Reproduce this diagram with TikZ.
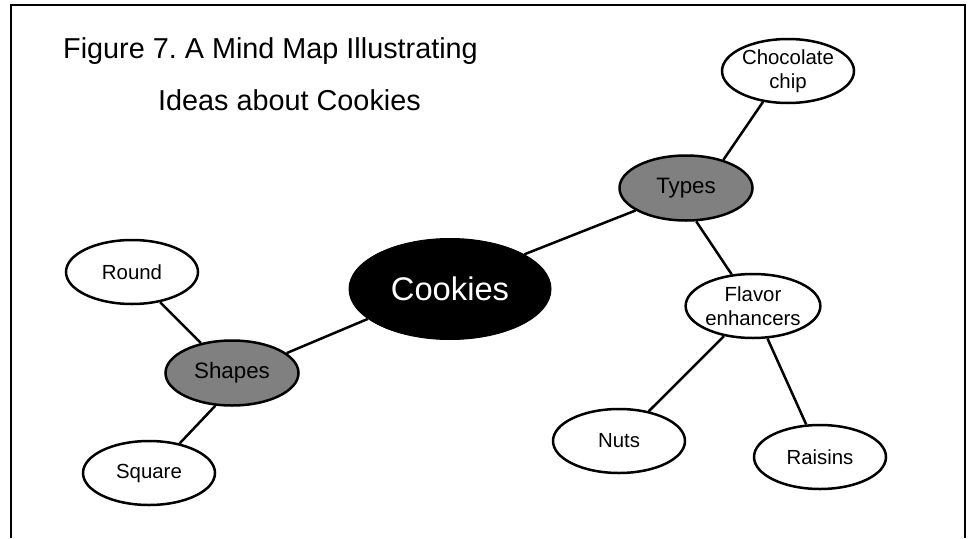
\documentclass[tikz,border=0pt]{standalone}
\usepackage{fontspec}
\setmainfont{Liberation Sans}
\usetikzlibrary{shapes.geometric}
\definecolor{branchgray}{RGB}{128,128,128}
\frenchspacing

\begin{document}
\begin{tikzpicture}[x=1pt,y=-1pt,
  bubble/.style={ellipse, draw=black, fill=white, line width=2.5pt, inner sep=0pt,
    minimum width=132pt, minimum height=64pt, align=center,
    font=\fontsize{20.4}{24}\selectfont},
  branch/.style={bubble, fill=branchgray, minimum width=133pt, minimum height=65pt,
    font=\fontsize{22.3}{26}\selectfont},
  hub/.style={ellipse, draw=black, fill=black, line width=1pt, inner sep=0pt,
    minimum width=202pt, minimum height=101pt, text=white,
    font=\fontsize{32.7}{38}\selectfont},
  link/.style={line width=2.5pt},
  caption/.style={anchor=base west, inner sep=0pt, font=\fontsize{28.8}{34}\selectfont}]

  \useasboundingbox (0,0) rectangle (974,538);

  % open frame (no bottom edge)
  \draw[line width=1.4pt] (11,538) -- (11,5) -- (965,5) -- (965,538);

  % caption
  \node[caption] (cap1) at (63,58) {Figure 7. A Mind Map Illustrating};
  \node[caption] (cap2) at (158,110) {Ideas about Cookies};

  % nodes
  \node[hub]    (cookies) at (450,289) {Cookies};
  \node[branch] (types)   at (686,188) {Types};
  \node[branch] (shapes)  at (232,373) {Shapes};
  \node[bubble] (choc)    at (788,71)  {Chocolate\\chip};
  \node[bubble] (flavor)  at (753,306) {Flavor\\enhancers};
  \node[bubble] (round)   at (132,272) {Round};
  \node[bubble] (square)  at (149,473) {Square};
  \node[bubble] (nuts)    at (619,441) {Nuts};
  \node[bubble] (raisins) at (820,457) {Raisins};

  % connectors
  \draw[link] (cookies.25)  -- (types.204);
  \draw[link] (cookies.200) -- (shapes.20);
  \draw[link] (types.37)    -- (choc.231);
  \draw[link] (types.287)   -- (flavor.124);
  \draw[link] (shapes.136)  -- (round.313);
  \draw[link] (shapes.243)  -- (square.44);
  \draw[link] (flavor.226)  -- (nuts.45);
  \draw[link] (flavor.294)  -- (raisins.113);
\end{tikzpicture}
\end{document}
